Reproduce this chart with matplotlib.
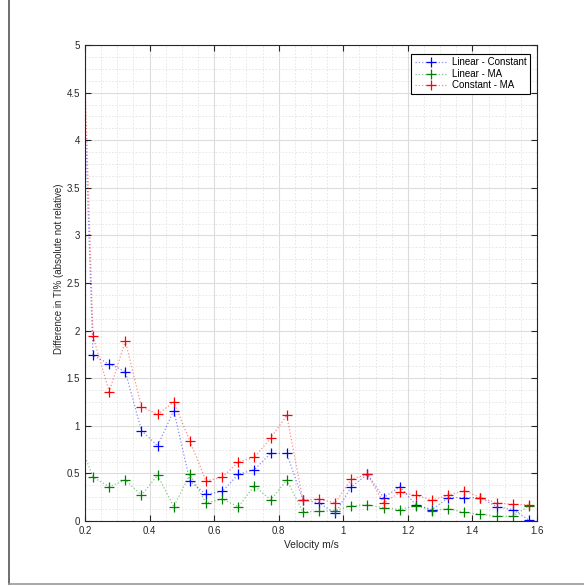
import matplotlib
matplotlib.use("Agg")
import matplotlib.pyplot as plt
from matplotlib.colors import to_rgba
from matplotlib.ticker import MultipleLocator, FuncFormatter
from matplotlib.lines import Line2D

# velocity bin centres (first one sits left of the visible range)
velocity = [0.175, 0.225, 0.275, 0.325, 0.375, 0.425, 0.475, 0.525, 0.575, 0.625,
            0.675, 0.725, 0.775, 0.825, 0.875, 0.925, 0.975, 1.025, 1.075, 1.125,
            1.175, 1.225, 1.275, 1.325, 1.375, 1.425, 1.475, 1.525, 1.575]

lin_const = [6.72, 1.74, 1.65, 1.57, 0.95, 0.79, 1.16, 0.42, 0.28, 0.31,
             0.49, 0.54, 0.71, 0.71, 0.22, 0.19, 0.08, 0.36, 0.49, 0.245,
             0.36, 0.17, 0.12, 0.245, 0.245, 0.245, 0.15, 0.12, 0.01]

lin_ma = [0.90, 0.46, 0.36, 0.43, 0.27, 0.48, 0.15, 0.49, 0.19, 0.23,
          0.15, 0.37, 0.22, 0.43, 0.095, 0.10, 0.11, 0.16, 0.17, 0.14,
          0.12, 0.16, 0.11, 0.13, 0.09, 0.07, 0.05, 0.05, 0.16]

const_ma = [7.33, 1.94, 1.36, 1.89, 1.20, 1.12, 1.25, 0.84, 0.42, 0.46,
            0.62, 0.67, 0.87, 1.11, 0.22, 0.23, 0.19, 0.44, 0.49, 0.19,
            0.30, 0.27, 0.22, 0.27, 0.32, 0.245, 0.19, 0.175, 0.17]

labels = ["Linear - Constant", "Linear - MA", "Constant - MA"]
colors = ["#0000ff", "#008000", "#ff0000"]

plt.rcParams['font.family'] = ['Liberation Sans', 'DejaVu Sans']
plt.rcParams['font.size'] = 7

fig = plt.figure(figsize=(5.84, 5.85), dpi=100)
ax = fig.add_axes([0.1455, 0.1094, 0.774, 0.8136])

handles = []
for ys, lab, c in zip([lin_const, lin_ma, const_ma], labels, colors):
    h, = ax.plot(velocity, ys, linestyle=':', color=to_rgba(c, 0.45), linewidth=0.9,
                 marker='+', markersize=6.5, markeredgewidth=0.9,
                 markeredgecolor=c, label=lab)
    handles.append(h)

leg = ax.legend(handles, labels, loc='upper right', bbox_to_anchor=(0.984, 0.981),
                borderaxespad=0, fancybox=False, framealpha=1, edgecolor='black',
                fontsize=7, handlelength=3.3, borderpad=0.35, labelspacing=0.15,
                handletextpad=0.5)
leg.get_frame().set_linewidth(0.8)

ax.set_xlim(0.2, 1.6)
ax.set_ylim(0, 5)
ax.xaxis.set_major_locator(MultipleLocator(0.2))
ax.xaxis.set_minor_locator(MultipleLocator(0.05))
ax.yaxis.set_major_locator(MultipleLocator(0.5))
ax.yaxis.set_minor_locator(MultipleLocator(0.125))
fmt = FuncFormatter(lambda v, p: ('%g' % round(v, 3)))
ax.xaxis.set_major_formatter(fmt)
ax.yaxis.set_major_formatter(fmt)

ax.grid(which='major', color='#dcdcdc', linewidth=0.8, linestyle='-')
ax.grid(which='minor', color='#e3e3e3', linewidth=0.6, linestyle=(0, (2, 2)))
ax.set_axisbelow(True)

ax.tick_params(which='both', direction='in', top=True, right=True,
               colors='#262626', labelsize=7)
ax.tick_params(which='major', length=4, width=0.8)
ax.tick_params(which='minor', length=0)
for s in ax.spines.values():
    s.set_color('#262626')
    s.set_linewidth(0.8)

ax.set_xlabel("Velocity m/s", color='#262626', labelpad=3, fontsize=7.4)
ax.set_ylabel("Difference in TI% (absolute not relative)", color='#262626')
ax.yaxis.set_label_coords(-0.046, 0.53)

# figure frame (left and bottom edges visible in the original export)
fig.add_artist(Line2D([8.5 / 584, 8.5 / 584], [1.5 / 585, 1.0], color='#555555',
                      linewidth=1.2, transform=fig.transFigure))
fig.add_artist(Line2D([8.5 / 584, 1.0], [1.5 / 585, 1.5 / 585], color='#999999',
                      linewidth=1.2, transform=fig.transFigure))

fig.savefig("out.png", dpi=100)
